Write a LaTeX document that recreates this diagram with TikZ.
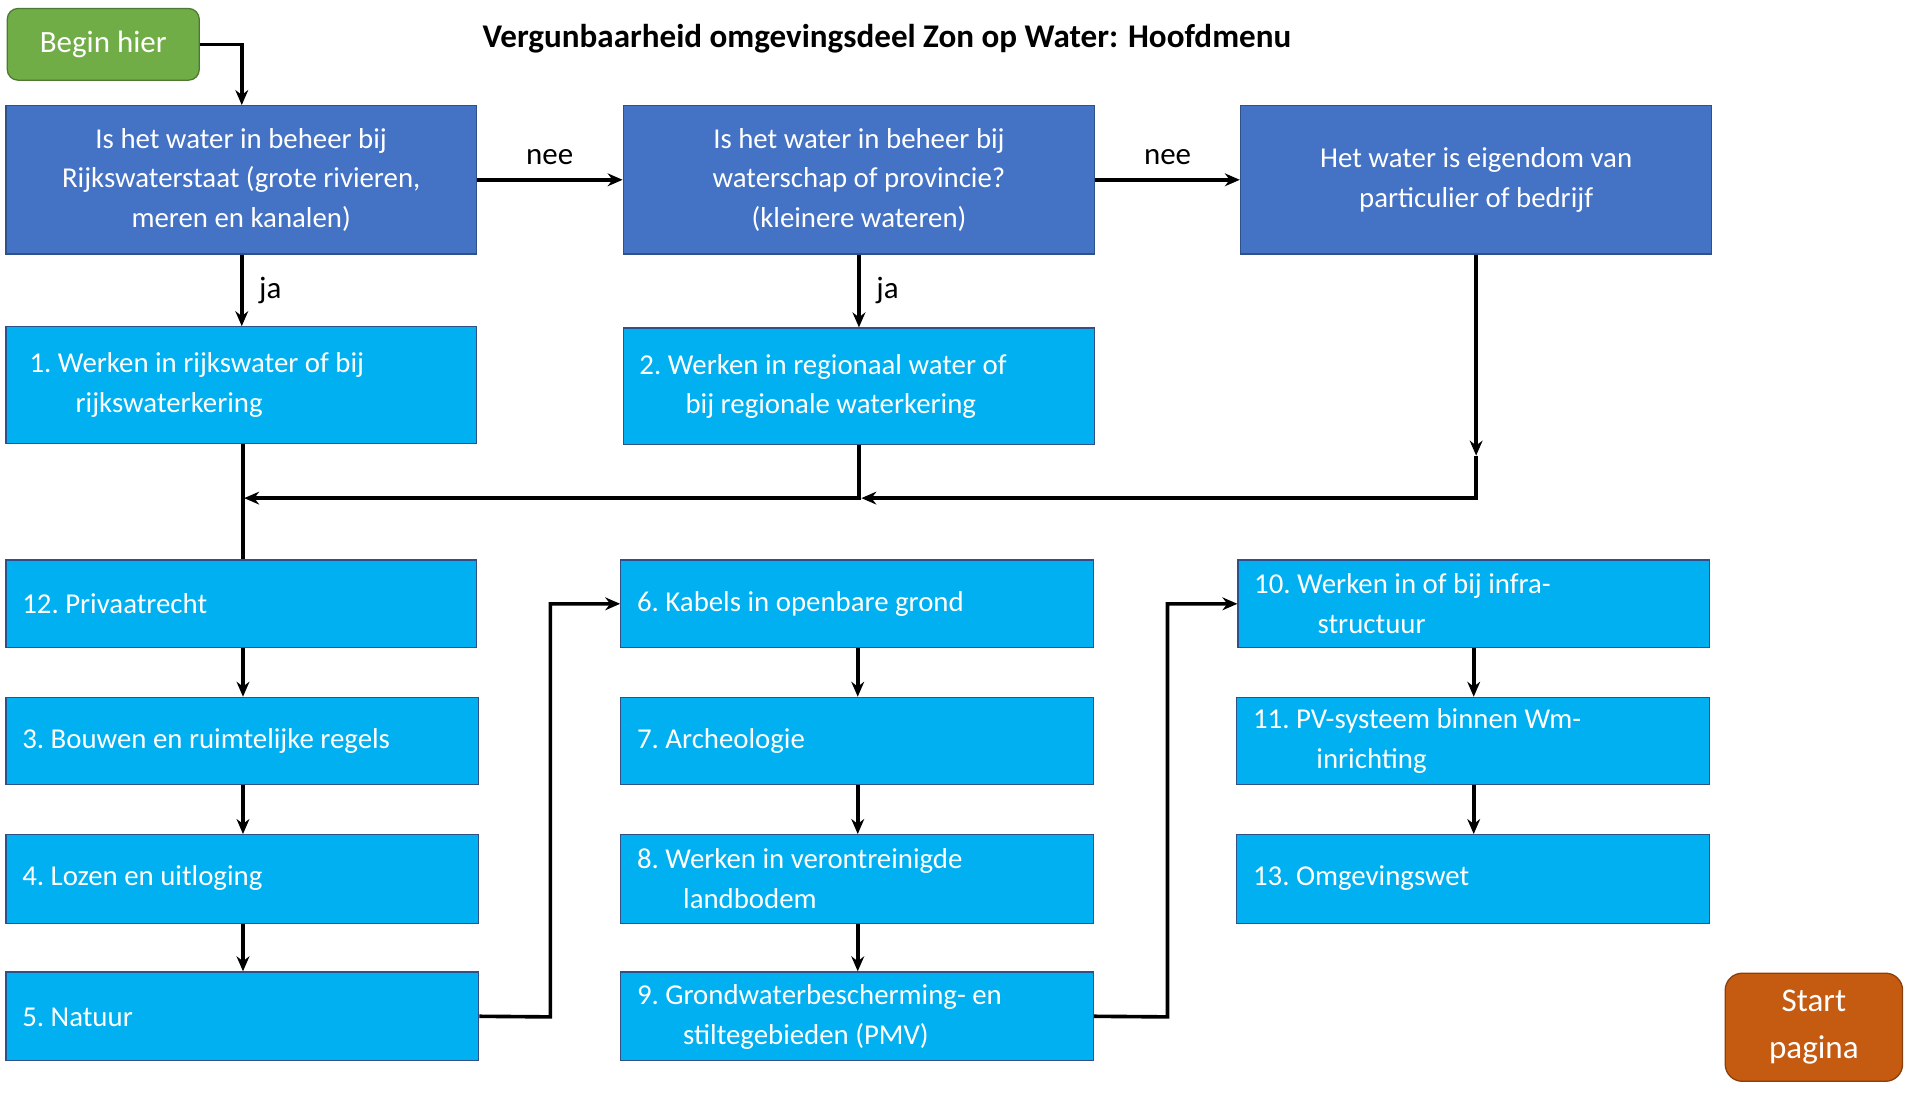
\documentclass[tikz,border=0pt]{standalone}
\usepackage{fontspec}
\setmainfont{Carlito}
\usetikzlibrary{fit,arrows.meta}
\definecolor{dblue}{HTML}{4472C4}
\definecolor{lblue}{HTML}{00B0F0}
\definecolor{bgreen}{HTML}{70AD47}
\definecolor{borange}{HTML}{C55A11}
\begin{document}
\begin{tikzpicture}[x=0.02cm,y=-0.02cm,
  font=\fontsize{13.5}{18.5}\selectfont,
  base/.style={inner sep=0pt, draw=dblue!70!black, line width=0.6pt},
  dark/.style={base, fill=dblue, text=white, align=center},
  light/.style={base, fill=lblue},
  txt/.style={anchor=west, align=left, text=white, inner sep=0pt},
  arr/.style={line width=1.7pt, -{Stealth[length=7pt,width=6pt]}},
  ln/.style={line width=1.7pt},
  lab/.style={font=\fontsize{14.5}{17}\selectfont}]
\useasboundingbox (0,0) rectangle (1568,902);
\node[font=\bfseries\fontsize{15.5}{18}\selectfont] (title) at (730,32) {Vergunbaarheid omgevingsdeel Zon op Water: Hoofdmenu};
\node[fit={(6,7)(164,66)}, base, draw=bgreen!70!black, fill=bgreen, rounded corners=5pt, text=white, font=\fontsize{14.5}{17}\selectfont] (begin) {};
\node[text=white, font=\fontsize{14.5}{17}\selectfont] (begint) at (begin.center) {Begin hier};
\node[fit={(5,87)(392,209)}, dark] (A) {};
\node[text=white, align=center] (At) at (A.center) {Is het water in beheer bij\\Rijkswaterstaat (grote rivieren,\\meren en kanalen)};
\node[fit={(513,87)(901,209)}, dark] (B) {};
\node[text=white, align=center] (Bt) at (B.center) {Is het water in beheer bij\\waterschap of provincie?\\(kleinere wateren)};
\node[fit={(1021,87)(1409,209)}, dark] (C) {};
\node[text=white, align=center] (Ct) at (C.center) {Het water is eigendom van\\particulier of bedrijf};
\node[fit={(5,269)(392,365)}, light] (n1) {};
\node[txt] (t1) at (24,317) {1.\ Werken in rijkswater of bij\\\hspace*{1.6em}rijkswaterkering};
\node[fit={(513,270)(901,366)}, light] (n2) {};
\node[txt] (t2) at (526,318) {2.\ Werken in regionaal water of\\\hspace*{1.6em}bij regionale waterkering};
\node[fit={(5,461)(392,533)}, light] (n12) {};
\node[txt] (t12) at (18,497) {12.\ Privaatrecht};
\node[fit={(5,574)(394,646)}, light] (n3) {};
\node[txt] (t3) at (18,610) {3.\ Bouwen en ruimtelijke regels};
\node[fit={(5,687)(394,760)}, light] (n4) {};
\node[txt] (t4) at (18,723) {4.\ Lozen en uitloging};
\node[fit={(5,800)(394,873)}, light] (n5) {};
\node[txt] (t5) at (18,837) {5.\ Natuur};
\node[fit={(511,461)(900,533)}, light] (n6) {};
\node[txt] (t6) at (524,497) {6.\ Kabels in openbare grond};
\node[fit={(511,574)(900,646)}, light] (n7) {};
\node[txt] (t7) at (524,610) {7.\ Archeologie};
\node[fit={(511,687)(900,760)}, light] (n8) {};
\node[txt] (t8) at (524,723) {8.\ Werken in verontreinigde\\\hspace*{1.6em}landbodem};
\node[fit={(511,800)(900,873)}, light] (n9) {};
\node[txt] (t9) at (524,837) {9.\ Grondwaterbescherming- en\\\hspace*{1.6em}stiltegebieden (PMV)};
\node[fit={(1019,461)(1407,533)}, light] (n10) {};
\node[txt] (t10) at (1032,497) {10.\ Werken in of bij infra-\\\hspace*{2.2em}structuur};
\node[fit={(1018,574)(1407,646)}, light] (n11) {};
\node[txt] (t11) at (1031,610) {11.\ PV-systeem binnen Wm-\\\hspace*{2.2em}inrichting};
\node[fit={(1018,687)(1407,760)}, light] (n13) {};
\node[txt] (t13) at (1031,723) {13.\ Omgevingswet};
\node[fit={(1420,801)(1566,890)}, base, draw=borange!70!black, fill=borange, rounded corners=8pt] (start) {};
\node[text=white, align=center, font=\fontsize{15.5}{22}\selectfont] (startt) at (start.center) {Start\\pagina};
% connectors
\draw[arr] (begin.east) -| (A.north -| 199,0);
\draw[arr] (A) -- node[above=3pt, lab] (nee1) {nee} (B);
\draw[arr] (B) -- node[above=3pt, lab] (nee2) {nee} (C);
\draw[arr] (A.south -| 199,0) -- node[right=4pt, lab] (ja1) {ja} (n1.north -| 199,0);
\draw[arr] (B.south -| 707,0) -- node[right=4pt, lab] (ja2) {ja} (n2.north -| 707,0);
\draw[ln] (n1.south -| 200,0) -- (n12.north -| 200,0);
\coordinate (m2) at (707,410);
\coordinate (mc) at (1215,375);
\coordinate (cc) at (1215,410);
\draw[arr] (n2.south -| 707,0) -- (m2) -- (201,410);
\draw[arr] (C.south -| 1215,0) -- (mc);
\draw[arr] (mc) -- (cc) -- (709,410);
\draw[arr] (n12.south -| 200,0) -- (n3.north -| 200,0);
\draw[arr] (n3.south -| 200,0) -- (n4.north -| 200,0);
\draw[arr] (n4.south -| 200,0) -- (n5.north -| 200,0);
\draw[arr] (n5.east) -- (453,837) |- (n6.west);
\draw[arr] (n6.south -| 706,0) -- (n7.north -| 706,0);
\draw[arr] (n7.south -| 706,0) -- (n8.north -| 706,0);
\draw[arr] (n8.south -| 706,0) -- (n9.north -| 706,0);
\draw[arr] (n9.east) -- (961,837) |- (n10.west);
\draw[arr] (n10.south -| 1213,0) -- (n11.north -| 1213,0);
\draw[arr] (n11.south -| 1213,0) -- (n13.north -| 1213,0);
\end{tikzpicture}
\end{document}
